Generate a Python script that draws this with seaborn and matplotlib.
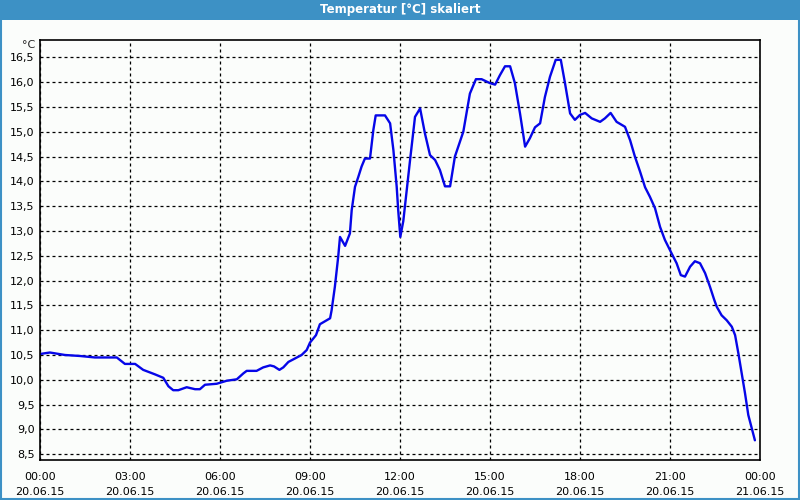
import numpy as np
import pandas as pd
import matplotlib
matplotlib.use("Agg")
import matplotlib.pyplot as plt
import matplotlib.dates as mdates
from matplotlib.ticker import MultipleLocator, FuncFormatter
import seaborn as sns

# ---- data (hours after 20.06.15 00:00, temperature °C) ----
hours = [0.0, 0.33, 0.83, 1.33, 1.83, 2.56, 2.83, 3.17, 3.44, 3.83, 4.11, 4.28, 4.44, 4.61,
         4.89, 5.17, 5.33, 5.5, 5.89, 6.22, 6.56, 6.78, 6.89, 7.22, 7.44, 7.67, 7.8, 7.98,
         8.11, 8.28, 8.5, 8.72, 8.89, 9.0, 9.2, 9.33, 9.67, 9.72, 9.83, 9.94, 10.0, 10.17,
         10.33, 10.39, 10.5, 10.61, 10.72, 10.83, 11.0, 11.11, 11.19, 11.5, 11.67, 11.78,
         11.89, 11.94, 12.01, 12.11, 12.22, 12.33, 12.5, 12.67, 12.83, 13.0, 13.17, 13.33,
         13.5, 13.67, 13.83, 14.11, 14.33, 14.53, 14.72, 15.0, 15.17, 15.33, 15.5, 15.67,
         15.83, 16.0, 16.17, 16.33, 16.5, 16.67, 16.83, 17.0, 17.19, 17.36, 17.5, 17.67,
         17.83, 18.0, 18.17, 18.39, 18.67, 18.83, 19.02, 19.22, 19.5, 19.67, 19.83, 20.0,
         20.17, 20.33, 20.5, 20.67, 20.83, 21.06, 21.22, 21.36, 21.5, 21.67, 21.83, 22.0,
         22.17, 22.33, 22.47, 22.56, 22.72, 22.89, 23.06, 23.17, 23.28, 23.39, 23.5, 23.61,
         23.83]
temps = [10.52, 10.55, 10.50, 10.48, 10.45, 10.45, 10.32, 10.32, 10.20, 10.11, 10.04, 9.87,
         9.79, 9.79, 9.85, 9.81, 9.81, 9.90, 9.92, 9.98, 10.01, 10.13, 10.18, 10.18, 10.25,
         10.29, 10.27, 10.20, 10.25, 10.36, 10.43, 10.50, 10.60, 10.75, 10.90, 11.12, 11.24,
         11.40, 11.88, 12.48, 12.88, 12.70, 12.95, 13.42, 13.89, 14.09, 14.30, 14.46, 14.46,
         15.03, 15.33, 15.33, 15.17, 14.63, 13.89, 13.42, 12.88, 13.20, 13.80, 14.40, 15.30,
         15.47, 14.97, 14.53, 14.43, 14.23, 13.90, 13.90, 14.50, 15.00, 15.77, 16.06, 16.06,
         15.98, 15.95, 16.14, 16.32, 16.32, 15.98, 15.37, 14.70, 14.87, 15.09, 15.17, 15.70,
         16.11, 16.45, 16.45, 15.98, 15.37, 15.24, 15.34, 15.38, 15.27, 15.20, 15.27, 15.38,
         15.20, 15.10, 14.83, 14.50, 14.20, 13.88, 13.69, 13.46, 13.08, 12.82, 12.54, 12.35,
         12.11, 12.08, 12.28, 12.39, 12.35, 12.15, 11.88, 11.62, 11.47, 11.30, 11.20, 11.07,
         10.90, 10.53, 10.13, 9.73, 9.29, 8.78]
y_ticks = [8.5, 9.0, 9.5, 10.0, 10.5, 11.0, 11.5, 12.0, 12.5, 13.0, 13.5, 14.0, 14.5, 15.0,
           15.5, 16.0, 16.5]
start = "2015-06-20 00:00"
title = "Temperatur [°C] skaliert"
unit = "°C"

df = pd.DataFrame({
    "time": pd.Timestamp(start) + pd.to_timedelta(hours, unit="h"),
    "temp": temps,
})

sns.set_style("white")
plt.rcParams["font.family"] = ["DejaVu Sans"]

bg = "#fbfdfb"
fig = plt.figure(figsize=(8, 5), dpi=100, facecolor=bg)
ax = fig.add_axes([40 / 800, 40 / 500, 720 / 800, 420 / 500])
ax.set_facecolor(bg)

sns.lineplot(data=df, x="time", y="temp", ax=ax, color="#0606e8", linewidth=1.7)

t0 = pd.Timestamp(start)
ax.set_xlim(t0, t0 + pd.Timedelta(hours=24))
ax.set_ylim(8.383, 16.85)

ax.set_yticks(y_ticks)
ax.yaxis.set_major_formatter(FuncFormatter(lambda v, p: f"{v:.1f}".replace(".", ",")))
ax.xaxis.set_major_locator(mdates.HourLocator(byhour=range(0, 24, 3)))
ax.xaxis.set_minor_locator(mdates.HourLocator())
ax.xaxis.set_major_formatter(mdates.DateFormatter("%H:%M\n%d.%m.%y"))

ax.tick_params(axis="y", length=0, pad=4, labelsize=8, colors="black")
ax.tick_params(axis="x", which="major", length=3, width=1, direction="out", pad=6,
               labelsize=8, colors="black")
ax.tick_params(axis="x", which="minor", length=3, width=1, direction="out")
for lbl in ax.get_xticklabels():
    lbl.set_linespacing(1.55)

ax.grid(True, which="major", color="black", linestyle=(0, (2.4, 2.4)), linewidth=0.9)
ax.set_xlabel("")
ax.set_ylabel("")
for s in ax.spines.values():
    s.set_visible(True)
    s.set_color("black")
    s.set_linewidth(1.2)

ax.text(-0.006, 0.988, unit, transform=ax.transAxes, ha="right", va="center", fontsize=8)

# title bar and window border
fig.patches.append(plt.Rectangle((0, 1 - 20 / 500), 1, 20 / 500, transform=fig.transFigure,
                                 facecolor="#3d91c5", edgecolor="none", zorder=0))
fig.patches.append(plt.Rectangle((0.001, 0.002), 0.998, 0.997, transform=fig.transFigure,
                                 facecolor="none", edgecolor="#3d91c5", linewidth=1.5, zorder=1))
fig.text(0.5, 1 - 10 / 500, title, ha="center", va="center", color="white",
         fontsize=8.5, fontweight="bold")

fig.savefig("out.png", dpi=100, facecolor=bg)
